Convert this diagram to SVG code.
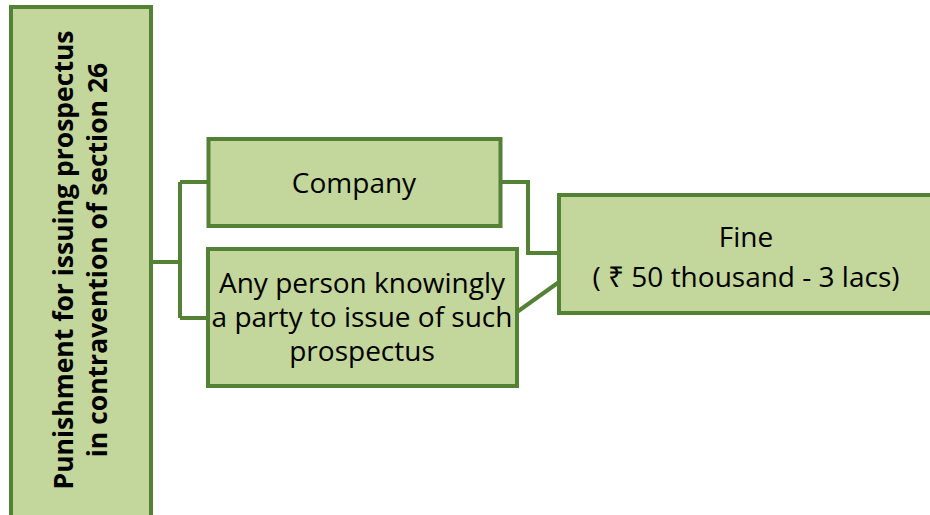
<svg xmlns="http://www.w3.org/2000/svg" width="930" height="515" viewBox="0 0 930 515">
<style>
.box{fill:#c3d69b;stroke:#538135;stroke-width:4}
.conn{fill:none;stroke:#538135;stroke-width:4}
.t{font-family:"Open Sans","Noto Sans",sans-serif;font-size:28px;fill:#000;text-anchor:middle}
.tb{font-family:"Open Sans","Noto Sans",sans-serif;font-size:26.5px;font-weight:bold;fill:#000;text-anchor:middle}
</style>
<rect width="930" height="515" fill="#fff"/>
<g id="connectors">
<path class="conn" d="M151 262 H180 M180 182 V318 M180 182 H208.5 M180 318 H208"/>
<path class="conn" d="M500.5 182 H528 V253 H559"/>
<path class="conn" d="M517 312 L559 282"/>
</g>
<g id="n-main">
<rect class="box" x="11" y="7" width="140" height="520"/>
<text class="tb" transform="translate(81 260) rotate(-90)"><tspan x="0" y="-8">Punishment for issuing prospectus</tspan><tspan x="0" y="26">in contravention of section 26</tspan></text>
</g>
<g id="n-company">
<rect class="box" x="208.5" y="139" width="292" height="87"/>
<text class="t" x="354" y="193">Company</text>
</g>
<g id="n-person">
<rect class="box" x="208" y="249" width="309" height="137"/>
<text class="t"><tspan x="362" y="293">Any person knowingly</tspan><tspan x="362" y="327">a party to issue of such</tspan><tspan x="362" y="361">prospectus</tspan></text>
</g>
<g id="n-fine">
<rect class="box" x="559" y="195" width="380" height="118"/>
<text class="t"><tspan x="746" y="247">Fine</tspan><tspan x="746" y="287">( ₹ 50 thousand - 3 lacs)</tspan></text>
</g>
</svg>
